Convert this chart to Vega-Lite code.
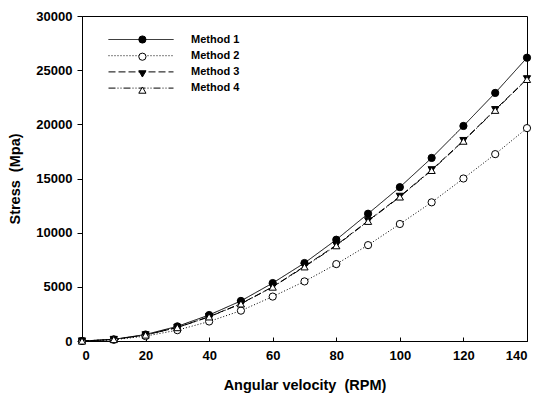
{
  "$schema": "https://vega.github.io/schema/vega-lite/v6.json",
  "autosize": {"type": "none"},
  "padding": {"left": 82, "top": 16, "right": 21, "bottom": 58},
  "width": 445,
  "height": 325,
  "background": "white",
  "config": {
    "view": {"stroke": "black", "strokeWidth": 1},
    "font": "Liberation Sans",
    "legend": {"symbolStrokeColor": "black"},
    "axis": {
      "grid": false,
      "domainColor": "black",
      "tickColor": "black",
      "labelColor": "black",
      "titleColor": "black",
      "labelFont": "Liberation Sans",
      "titleFont": "Liberation Sans",
      "labelFontWeight": "bold",
      "titleFontWeight": "bold",
      "labelFontSize": 13,
      "titleFontSize": 14.5
    }
  },
  "data": {
    "values": [
      {"rpm": 0, "stress": 0, "method": "Method 1"},
      {"rpm": 10, "stress": 150, "method": "Method 1"},
      {"rpm": 20, "stress": 600, "method": "Method 1"},
      {"rpm": 30, "stress": 1350, "method": "Method 1"},
      {"rpm": 40, "stress": 2400, "method": "Method 1"},
      {"rpm": 50, "stress": 3700, "method": "Method 1"},
      {"rpm": 60, "stress": 5350, "method": "Method 1"},
      {"rpm": 70, "stress": 7200, "method": "Method 1"},
      {"rpm": 80, "stress": 9350, "method": "Method 1"},
      {"rpm": 90, "stress": 11750, "method": "Method 1"},
      {"rpm": 100, "stress": 14200, "method": "Method 1"},
      {"rpm": 110, "stress": 16900, "method": "Method 1"},
      {"rpm": 120, "stress": 19850, "method": "Method 1"},
      {"rpm": 130, "stress": 22900, "method": "Method 1"},
      {"rpm": 140, "stress": 26150, "method": "Method 1"},
      {"rpm": 0, "stress": 0, "method": "Method 2"},
      {"rpm": 10, "stress": 110, "method": "Method 2"},
      {"rpm": 20, "stress": 450, "method": "Method 2"},
      {"rpm": 30, "stress": 1000, "method": "Method 2"},
      {"rpm": 40, "stress": 1800, "method": "Method 2"},
      {"rpm": 50, "stress": 2800, "method": "Method 2"},
      {"rpm": 60, "stress": 4100, "method": "Method 2"},
      {"rpm": 70, "stress": 5500, "method": "Method 2"},
      {"rpm": 80, "stress": 7100, "method": "Method 2"},
      {"rpm": 90, "stress": 8850, "method": "Method 2"},
      {"rpm": 100, "stress": 10800, "method": "Method 2"},
      {"rpm": 110, "stress": 12800, "method": "Method 2"},
      {"rpm": 120, "stress": 15000, "method": "Method 2"},
      {"rpm": 130, "stress": 17250, "method": "Method 2"},
      {"rpm": 140, "stress": 19650, "method": "Method 2"},
      {"rpm": 0, "stress": 0, "method": "Method 3"},
      {"rpm": 10, "stress": 140, "method": "Method 3"},
      {"rpm": 20, "stress": 560, "method": "Method 3"},
      {"rpm": 30, "stress": 1250, "method": "Method 3"},
      {"rpm": 40, "stress": 2250, "method": "Method 3"},
      {"rpm": 50, "stress": 3450, "method": "Method 3"},
      {"rpm": 60, "stress": 5000, "method": "Method 3"},
      {"rpm": 70, "stress": 6900, "method": "Method 3"},
      {"rpm": 80, "stress": 8850, "method": "Method 3"},
      {"rpm": 90, "stress": 11100, "method": "Method 3"},
      {"rpm": 100, "stress": 13350, "method": "Method 3"},
      {"rpm": 110, "stress": 15800, "method": "Method 3"},
      {"rpm": 120, "stress": 18500, "method": "Method 3"},
      {"rpm": 130, "stress": 21350, "method": "Method 3"},
      {"rpm": 140, "stress": 24200, "method": "Method 3"},
      {"rpm": 0, "stress": 0, "method": "Method 4"},
      {"rpm": 10, "stress": 140, "method": "Method 4"},
      {"rpm": 20, "stress": 555, "method": "Method 4"},
      {"rpm": 30, "stress": 1240, "method": "Method 4"},
      {"rpm": 40, "stress": 2230, "method": "Method 4"},
      {"rpm": 50, "stress": 3430, "method": "Method 4"},
      {"rpm": 60, "stress": 4980, "method": "Method 4"},
      {"rpm": 70, "stress": 6850, "method": "Method 4"},
      {"rpm": 80, "stress": 8800, "method": "Method 4"},
      {"rpm": 90, "stress": 11050, "method": "Method 4"},
      {"rpm": 100, "stress": 13300, "method": "Method 4"},
      {"rpm": 110, "stress": 15750, "method": "Method 4"},
      {"rpm": 120, "stress": 18450, "method": "Method 4"},
      {"rpm": 130, "stress": 21300, "method": "Method 4"},
      {"rpm": 140, "stress": 24150, "method": "Method 4"}
    ]
  },
  "encoding": {
    "x": {
      "field": "rpm",
      "type": "quantitative",
      "scale": {"domain": [0, 140], "nice": false, "zero": false},
      "axis": {"values": [0, 20, 40, 60, 80, 100, 120, 140], "format": "d", "tickSize": -4, "labelPadding": 12, "title": "Angular velocity\u00a0 (RPM)", "titlePadding": 16}
    },
    "y": {
      "field": "stress",
      "type": "quantitative",
      "scale": {"domain": [0, 30000], "nice": false},
      "axis": {"values": [0, 5000, 10000, 15000, 20000, 25000, 30000], "format": "d", "tickSize": 5, "labelPadding": 5, "title": "Stress\u00a0 (Mpa)", "titlePadding": 13}
    }
  },
  "layer": [
    {
      "mark": {"type": "line", "color": "black", "strokeWidth": 1},
      "encoding": {
        "strokeDash": {
          "field": "method",
          "type": "nominal",
          "scale": {"domain": ["Method 1", "Method 2", "Method 3", "Method 4"], "range": [[1, 0], [1, 2], [7, 3], [7, 2, 1, 2, 1, 2]]},
          "legend": {
            "title": null,
            "orient": "none",
            "legendX": 53.5,
            "legendY": 18,
            "padding": 0,
            "symbolType": "M-6.5,0H6.5",
            "symbolSize": 100,
            "symbolStrokeColor": "black",
            "symbolStrokeWidth": 1,
            "labelFont": "Liberation Sans",
            "labelFontWeight": "bold",
            "labelFontSize": 11,
            "labelColor": "black",
            "labelOffset": 44.5,
            "rowPadding": 4.2
          }
        }
      }
    },
    {
      "mark": {"type": "point", "filled": true, "strokeWidth": 1, "size": 52, "opacity": 1},
      "encoding": {
        "shape": {
          "field": "method",
          "type": "nominal",
          "scale": {"range": ["circle", "circle", "triangle-down", "triangle-up"]},
          "legend": {
            "title": null,
            "orient": "none",
            "legendX": 54.9,
            "legendY": 18,
            "padding": 0,
            "symbolSize": 52,
            "symbolStrokeColor": "black",
            "symbolStrokeWidth": 1,
            "labelFont": "Liberation Sans",
            "labelFontWeight": "bold",
            "labelFontSize": 11,
            "labelExpr": "'\u00a0'",
            "labelOffset": 2,
            "rowPadding": 4.2
          }
        },
        "fill": {
          "field": "method",
          "type": "nominal",
          "scale": {"range": ["black", "white", "black", "white"]},
          "legend": {
            "title": null,
            "orient": "none",
            "legendX": 54.9,
            "legendY": 18,
            "padding": 0,
            "symbolSize": 52,
            "symbolStrokeColor": "black",
            "symbolStrokeWidth": 1,
            "labelFont": "Liberation Sans",
            "labelFontWeight": "bold",
            "labelFontSize": 11,
            "labelExpr": "'\u00a0'",
            "labelOffset": 2,
            "rowPadding": 4.2
          }
        },
        "stroke": {
          "field": "method",
          "type": "nominal",
          "scale": {"range": ["black", "black", "black", "black"]},
          "legend": {
            "title": null,
            "orient": "none",
            "legendX": 54.9,
            "legendY": 18,
            "padding": 0,
            "symbolSize": 52,
            "symbolStrokeColor": "black",
            "symbolStrokeWidth": 1,
            "labelFont": "Liberation Sans",
            "labelFontWeight": "bold",
            "labelFontSize": 11,
            "labelExpr": "'\u00a0'",
            "labelOffset": 2,
            "rowPadding": 4.2
          }
        }
      }
    }
  ]
}
